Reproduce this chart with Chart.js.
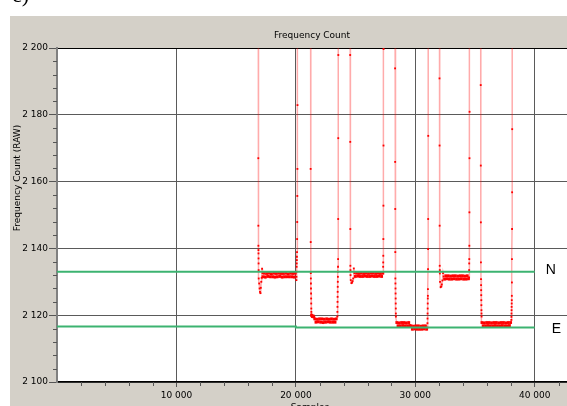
<!DOCTYPE html>
<html>
<head>
<meta charset="utf-8">
<script src="https://cdn.jsdelivr.net/npm/chart.js@4/dist/chart.umd.min.js"></script>
<style>
  html, body { margin: 0; padding: 0; background: #fff; overflow: hidden; }
  canvas { display: block; }
</style>
</head>
<body>
<canvas id="c" width="571" height="406"></canvas>
<script>
// Axis ranges and tick spacing
const X_MIN = 0, X_MAX = 42700, X_MINOR = 2000;
const Y_MIN = 2100, Y_MAX = 2200, Y_MAJOR = 20, Y_MINOR = 4;
const xTickValues = [10000, 20000, 30000, 40000];

// Reference levels (RAW counts), as [sample, count]
const levelN = [[0, 2133.0], [40000, 2133.0]];
const levelE = [[0, 2116.6], [20000, 2116.6], [20000, 2116.3], [40000, 2116.3]];

// Frequency count readings, grouped in runs
const fall1 = [2230, 2167.0, 2146.8, 2140.8, 2139.5, 2138.5, 2137.0, 2135.5, 2133.5];
const dip1  = [2131.0, 2129.5, 2128.0, 2127.0, 2126.6, 2128.2, 2130.0, 2131.2, 2133.9, 2132.6];
const hold1 = [2131.5, 2132.6, 2131.4, 2132.5, 2131.6, 2132.6, 2131.5, 2132.4, 2131.5, 2132.6,
               2131.4, 2132.5, 2131.5, 2132.6, 2131.6, 2132.5, 2131.4, 2132.5, 2131.5, 2132.6,
               2131.5, 2132.4, 2131.5, 2132.6, 2131.5, 2132.5, 2131.4, 2132.6];
const rise1 = [2130.5, 2131.5, 2133.0, 2134.5, 2135.5, 2136.5, 2137.5, 2138.9, 2142.8, 2147.9, 2155.7, 2163.8, 2182.9, 2230];

const fall2 = [2230, 2163.8, 2141.9, 2132.6, 2131.0, 2129.5, 2128.0, 2126.5, 2125.0, 2123.5, 2122.0, 2121.0, 2120.3];
const step2 = [2119.9, 2119.6, 2119.8, 2119.5];
const hold2 = [2118.9, 2117.9, 2118.8, 2118.0, 2118.9, 2117.9, 2118.9, 2117.8, 2118.8, 2117.9,
               2118.9, 2118.0, 2118.8, 2117.9, 2118.9, 2117.9, 2118.8, 2117.9, 2118.9];
const rise2 = [2119.6, 2121.0, 2122.5, 2124.0, 2125.5, 2127.0, 2128.5, 2130.0, 2131.5, 2133.0, 2134.5, 2136.8, 2148.8, 2173.0, 2197.9, 2230];

const fall3 = [2230, 2197.9, 2171.9, 2145.8, 2134.8, 2133.5, 2132.0];
const dip3  = [2130.5, 2129.6, 2129.8, 2130.2, 2131.0, 2134.0, 2132.6];
const hold3 = [2131.6, 2132.6, 2131.7, 2132.5, 2131.6, 2132.6, 2131.6, 2132.5, 2131.7, 2132.6,
               2131.6, 2132.5, 2131.6, 2132.6, 2131.7, 2132.6, 2131.6, 2132.5, 2131.6, 2132.6,
               2131.7, 2132.5, 2131.6, 2132.6];
const rise3 = [2132.5, 2134.5, 2135.8, 2137.8, 2142.8, 2152.8, 2170.8, 2199.7, 2230];

const fall4  = [2230, 2193.9, 2165.9, 2151.8, 2138.9, 2131.0, 2129.5, 2128.0, 2126.5, 2125.0, 2123.5, 2122.0, 2120.5, 2119.6];
const hold4a = [2117.8, 2116.8, 2117.7, 2116.8, 2117.8, 2116.9, 2117.8, 2116.8, 2117.7, 2116.8, 2117.8, 2116.9];
const hold4b = [2116.8, 2115.8, 2116.7, 2115.9, 2116.8, 2115.8, 2116.8, 2115.8, 2116.7, 2115.8, 2116.8, 2115.9, 2116.8, 2115.8];
const rise4  = [2116.3, 2117.6, 2119.0, 2120.5, 2122.0, 2123.5, 2125.0, 2125.8, 2127.8, 2133.8, 2139.8, 2148.8, 2173.7, 2230];

const fall5 = [2230, 2190.9, 2170.8, 2146.8, 2134.8, 2133.5, 2132.5];
const dip5  = [2130.0, 2128.4, 2128.6, 2129.2, 2130.4, 2132.6, 2131.6];
const hold5 = [2130.8, 2131.8, 2130.9, 2131.8, 2130.8, 2131.7, 2130.8, 2131.8, 2130.9, 2131.8,
               2130.8, 2131.7, 2130.8, 2131.8, 2130.9, 2131.8, 2130.8, 2131.7, 2130.8, 2131.8, 2130.9];
const rise5 = [2131.3, 2133.5, 2135.5, 2136.8, 2140.8, 2150.8, 2167.0, 2180.9, 2230];

const fall6 = [2230, 2188.9, 2164.8, 2147.8, 2135.8, 2130.8, 2129.0, 2127.5, 2126.0, 2124.5, 2123.0, 2121.5, 2120.5, 2119.6];
const hold6 = [2117.8, 2116.8, 2117.7, 2116.8, 2117.8, 2116.9, 2117.8, 2116.8, 2117.7, 2116.8,
               2117.8, 2116.9, 2117.8, 2116.8, 2117.7, 2116.8, 2117.8, 2116.9, 2117.8, 2116.8,
               2117.7, 2116.8, 2117.8, 2116.9, 2117.8];
const rise6 = [2118.6, 2119.5, 2120.5, 2121.5, 2122.5, 2123.5, 2124.5, 2125.8, 2129.8, 2136.8, 2145.8, 2156.8, 2175.7, 2230];

// Each run: [first sample, sample stride, readings, settled?]
const runs = [
  [16850, 4, fall1, false], [16890, 35, dip1, false], [17250, 100, hold1, true], [20040, 8, rise1, false],
  [21230, 6, fall2, false], [21320, 60, step2, true], [21580, 100, hold2, true], [23470, 6, rise2, false],
  [24540, 6, fall3, false], [24600, 50, dip3, false], [24980, 100, hold3, true], [27300, 6, rise3, false],
  [28300, 6, fall4, false], [28450, 100, hold4a, true], [29650, 100, hold4b, true], [31010, 6, rise4, false],
  [32020, 6, fall5, false], [32070, 50, dip5, false], [32450, 100, hold5, true], [34500, 6, rise5, false],
  [35470, 6, fall6, false], [35580, 100, hold6, true], [38040, 6, rise6, false]
];

const trace = [];
const settled = [];
for (const [first, stride, readings, flat] of runs) {
  readings.forEach((y, i) => {
    trace.push({ x: first + i * stride, y });
    settled.push(flat);
  });
}
const toXY = arr => arr.map(([x, y]) => ({ x, y }));

// "2 200", "10 000"
const fmt = v => String(v).replace(/\B(?=(\d{3})+(?!\d))/g, ' ');

const FONT = 'DejaVu Sans';
const GREEN = '#3cb371';

const frame = {
  id: 'frame',
  beforeDraw(chart) {
    const { ctx, chartArea: a } = chart;
    ctx.save();
    ctx.fillStyle = '#fff';
    ctx.fillRect(0, 0, chart.width, chart.height);
    ctx.fillStyle = '#d4d0c8';
    ctx.fillRect(10, 16, chart.width - 10, chart.height - 16);
    ctx.fillStyle = '#fff';
    ctx.fillRect(a.left, a.top, a.right - a.left, a.bottom - a.top);
    ctx.restore();
  },
  afterDraw(chart) {
    const { ctx, chartArea: a, scales: { x, y } } = chart;
    ctx.save();
    // minor tick marks
    ctx.strokeStyle = '#555';
    ctx.lineWidth = 1;
    ctx.beginPath();
    for (let v = X_MIN; v <= X_MAX; v += X_MINOR) {
      if (v === 0 || xTickValues.includes(v)) continue;
      const px = Math.round(x.getPixelForValue(v)) + 0.5;
      ctx.moveTo(px, a.bottom);
      ctx.lineTo(px, a.bottom + 4);
    }
    for (let v = Y_MIN; v <= Y_MAX; v += Y_MINOR) {
      if ((v - Y_MIN) % Y_MAJOR === 0) continue;
      const py = Math.round(y.getPixelForValue(v)) + 0.5;
      ctx.moveTo(a.left - 4, py);
      ctx.lineTo(a.left, py);
    }
    ctx.stroke();

    // chart title
    ctx.fillStyle = '#000';
    ctx.font = `9px "${FONT}"`;
    ctx.textAlign = 'center';
    ctx.textBaseline = 'middle';
    ctx.fillText('Frequency Count', (a.left + a.right) / 2, 36);

    // axis titles
    ctx.fillText('Samples', (a.left + a.right) / 2 - 2, 408);
    ctx.save();
    ctx.translate(18, 178);
    ctx.rotate(-Math.PI / 2);
    ctx.font = `9px "${FONT}"`;
    ctx.fillText('Frequency Count (RAW)', 0, 0);
    ctx.restore();

    // level labels
    ctx.font = '14px "Liberation Sans"';
    ctx.textAlign = 'left';
    const x40 = x.getPixelForValue(40000);
    ctx.fillText('N', x40 + 11, y.getPixelForValue(levelN[1][1]) - 2);
    ctx.fillText('E', x40 + 17, y.getPixelForValue(levelE[3][1]) + 2);

    // panel letter
    ctx.font = '22px "Liberation Serif"';
    ctx.textBaseline = 'alphabetic';
    ctx.fillText('c)', 12, 2);
    ctx.restore();
  }
};

new Chart(document.getElementById('c'), {
  type: 'scatter',
  data: {
    datasets: [
      { label: 'N', data: toXY(levelN), showLine: true, borderColor: GREEN, borderWidth: 2,
        pointRadius: 0, order: 0 },
      { label: 'E', data: toXY(levelE), showLine: true, borderColor: GREEN, borderWidth: 2,
        pointRadius: 0, order: 0 },
      { label: 'Frequency Count', data: trace, showLine: true,
        borderColor: 'rgba(255,0,0,0.33)', borderWidth: 1.5,
        pointRadius: c => (settled[c.dataIndex] ? 2 : 1.3),
        pointStyle: 'rect', pointBackgroundColor: '#ff0000',
        pointBorderWidth: 0, order: 1 }
    ]
  },
  options: {
    responsive: false,
    animation: false,
    events: [],
    layout: { padding: { top: 48, left: 0, right: 0, bottom: 0 } },
    plugins: { legend: { display: false }, tooltip: { enabled: false }, title: { display: false } },
    scales: {
      x: {
        type: 'linear', min: X_MIN, max: X_MAX,
        afterFit(s) { s.height = 24; },
        afterBuildTicks(s) { s.ticks = xTickValues.map(value => ({ value })); },
        ticks: {
          autoSkip: false, maxRotation: 0,
          padding: 3, color: '#000', font: { family: FONT, size: 9 },
          callback: v => fmt(v)
        },
        grid: { color: '#5a5a5a', tickColor: '#555', tickLength: 5, lineWidth: 1 },
        border: { color: '#000', width: 1.5 }
      },
      y: {
        type: 'linear', min: Y_MIN, max: Y_MAX,
        afterFit(s) { s.width = 57; },
        ticks: {
          stepSize: Y_MAJOR, padding: 1, color: '#000', font: { family: FONT, size: 9 },
          callback: v => fmt(v)
        },
        grid: {
          color: c => (c.tick && c.tick.value === Y_MAX ? '#000' : '#5a5a5a'),
          tickColor: '#555', tickLength: 8, lineWidth: 1
        },
        border: { color: '#808080', width: 2 }
      }
    }
  },
  plugins: [frame]
});
</script>
</body>
</html>
